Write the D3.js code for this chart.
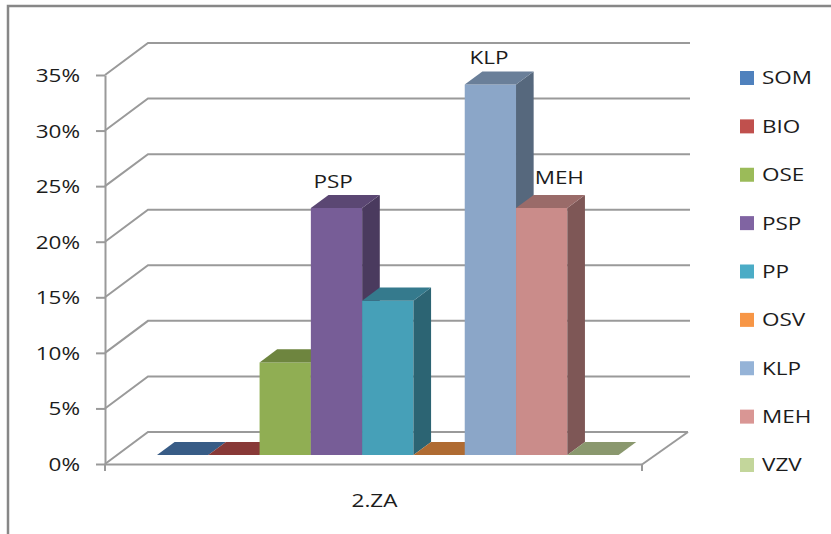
<!DOCTYPE html>
<html>
<head>
<meta charset="utf-8">
<script src="https://cdn.jsdelivr.net/npm/d3@7/dist/d3.min.js"></script>
<style>
  html, body { margin: 0; padding: 0; background: #fff; }
  svg { display: block; }
  text { font-family: "Open Sans", "Noto Sans", sans-serif; fill: #1c1c1c; }
</style>
</head>
<body>
<svg id="chart" width="831" height="534"></svg>
<script>
// ---- data ----
const category = "2.ZA";
const seriesNames = ["SOM", "BIO", "OSE", "PSP", "PP", "OSV", "KLP", "MEH", "VZV"];
const seriesValues = [0, 0, 0.0833, 0.2222, 0.1389, 0, 0.3333, 0.2222, 0];
const seriesColors = ["#4F81BD", "#C0504D", "#9BBB59", "#8064A2", "#4BACC6", "#F79646", "#95B3D7", "#D99694", "#C3D69B"];
const yTickValues = [0, 0.05, 0.10, 0.15, 0.20, 0.25, 0.30, 0.35];
const labelledSeries = ["PSP", "KLP", "MEH"];

// ---- layout ----
const W = 831, H = 534;
const plotLeft = 105, plotRight = 642;     // front edge of the floor
const depthX = 43, depthY = 32;            // oblique depth offset of the walls
const barZ0 = 0.28, barZ1 = 0.69;          // bar depth span (fraction of wall depth)
const textStretch = 1.25;                  // horizontal stretch of all text
const gridColor = "#9a9a9a";

const svg = d3.select("#chart");

const y = d3.scaleLinear().domain([0, 0.35]).range([464, 75]);
const x = d3.scaleBand()
  .domain(seriesNames)
  .range([plotLeft, plotRight])
  .paddingInner(0)
  .paddingOuter(0.735)
  .align(0.53);

// oblique projection: plane x, value v, depth z in [0,1]
const proj = (px, v, z) => [px + z * depthX, y(v) - z * depthY];
const poly = pts => "M" + pts.map(p => p.join(",")).join("L") + "Z";

// chart border
svg.append("path")
  .attr("d", `M8,${H} L8,6 L${W},6`)
  .attr("fill", "none")
  .attr("stroke", "#878787")
  .attr("stroke-width", 2.5);

// walls: side-wall diagonals and back-wall gridlines
const grid = svg.append("g").attr("fill", "none").attr("stroke", gridColor).attr("stroke-width", 2);
yTickValues.forEach(t => {
  const [bx, by] = proj(plotLeft, t, 1);
  const endX = t === 0 ? plotRight + depthX + 3 : 690;
  grid.append("path").attr("d", `M${plotLeft},${y(t)} L${bx},${by} L${endX},${by}`);
});
// floor right edge
grid.append("path").attr("d", `M${plotRight},${y(0) + 0.5} L${plotRight + depthX + 3},${y(0) - depthY}`);

// category axis along the front of the floor with boundary ticks
const catAxis = svg.append("g").attr("stroke", gridColor).attr("stroke-width", 2).attr("fill", "none");
catAxis.append("path").attr("d", `M${plotLeft},${y(0) + 0.5} L${plotRight},${y(0) + 0.5}`);
catAxis.append("path").attr("d", `M${plotLeft},${y(0)} L${plotLeft},${y(0) + 7}`);
catAxis.append("path").attr("d", `M${plotRight},${y(0)} L${plotRight},${y(0) + 7}`);

svg.append("g")
  .attr("transform", `translate(${(plotLeft + plotRight) / 2 + 1},507) scale(${textStretch},1)`)
  .append("text")
  .attr("text-anchor", "middle")
  .attr("font-size", 18)
  .text(category);

// value axis
const yAxis = d3.axisLeft(y)
  .tickValues(yTickValues)
  .tickFormat(d3.format(".0%"))
  .tickSize(9)
  .tickSizeOuter(0);

const yg = svg.append("g").attr("transform", `translate(${plotLeft},0)`).call(yAxis);
yg.select(".domain").attr("stroke", gridColor).attr("stroke-width", 2);
yg.selectAll(".tick line").attr("stroke", gridColor).attr("stroke-width", 2);
yg.selectAll(".tick text")
  .attr("x", 0)
  .attr("dy", "0.36em")
  .attr("transform", `translate(-25,0) scale(${textStretch},1)`)
  .attr("font-size", 18)
  .attr("font-family", "'Open Sans', sans-serif")
  .attr("fill", "#1c1c1c");

// bars (painted left to right so each front face covers the previous side face)
const shade = (c, k) => {
  const r = d3.rgb(c);
  return d3.rgb(r.r * k, r.g * k, r.b * k).formatHex();
};

const bars = svg.append("g");
seriesNames.forEach((name, i) => {
  const v = seriesValues[i];
  const c = seriesColors[i];
  const x0 = x(name), x1 = x0 + x.bandwidth();
  const g = bars.append("g");
  if (v > 0) {
    g.append("path")
      .attr("d", poly([proj(x0, 0, barZ0), proj(x1, 0, barZ0), proj(x1, v, barZ0), proj(x0, v, barZ0)]))
      .attr("fill", shade(c, 0.93));
    g.append("path")
      .attr("d", poly([proj(x1, 0, barZ0), proj(x1, 0, barZ1), proj(x1, v, barZ1), proj(x1, v, barZ0)]))
      .attr("fill", shade(c, 0.58));
  }
  g.append("path")
    .attr("d", poly([proj(x0, v, barZ0), proj(x1, v, barZ0), proj(x1, v, barZ1), proj(x0, v, barZ1)]))
    .attr("fill", shade(c, 0.71));
});

// data labels (series name above selected bars)
const labelShift = { PSP: -21, KLP: -19, MEH: 0 };
const labelLift = { PSP: 7, KLP: 7, MEH: 11 };
labelledSeries.forEach(name => {
  const i = seriesNames.indexOf(name);
  const v = seriesValues[i];
  const [tx, ty] = proj(x(name) + x.bandwidth() / 2, v, barZ1);
  svg.append("g")
    .attr("transform", `translate(${tx + labelShift[name]},${ty - labelLift[name]}) scale(${textStretch},1)`)
    .append("text")
    .attr("text-anchor", "middle")
    .attr("font-size", 18)
    .text(name);
});

// legend
const legend = svg.append("g");
const legendRow = d3.scalePoint().domain(seriesNames).range([78, 465]);
seriesNames.forEach((name, i) => {
  const cy = legendRow(name);
  legend.append("rect")
    .attr("x", 740).attr("y", cy - 7)
    .attr("width", 14).attr("height", 14)
    .attr("fill", seriesColors[i]);
  legend.append("g")
    .attr("transform", `translate(762,${cy}) scale(${textStretch},1)`)
    .append("text")
    .attr("dy", "0.36em")
    .attr("font-size", 18)
    .text(name);
});
</script>
</body>
</html>
